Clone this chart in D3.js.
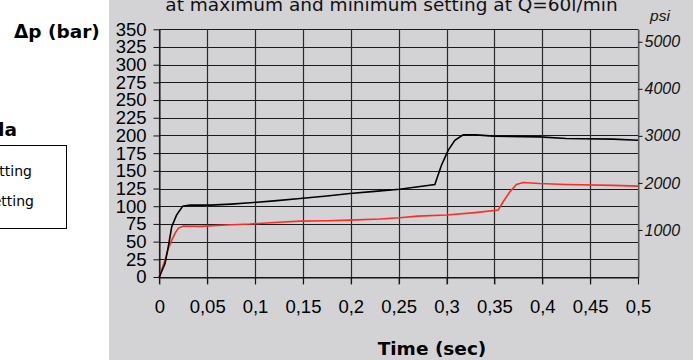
<!DOCTYPE html>
<html><head><meta charset="utf-8">
<script src="https://cdn.jsdelivr.net/npm/d3@7"></script>
<style>body{margin:0;background:#fff}svg{display:block}</style>
</head><body>
<svg id="c" width="693" height="360"></svg>
<script>
const maxSetting = [[0,0],[0.006,19],[0.0094,43],[0.013,71],[0.018,87.5],[0.0244,100],[0.032,101.6],[0.053,101.5],[0.075,103],[0.0947,104.9],[0.12,107.5],[0.147,111],[0.175,114.5],[0.199,118],[0.225,121],[0.251,124],[0.2878,130.8],[0.2947,158],[0.3017,179],[0.3087,193],[0.3174,201],[0.331,200.8],[0.3487,199],[0.397,198],[0.425,195.7],[0.474,194.8],[0.5,193.3]];
const minSetting = [[0,0],[0.006,24],[0.0094,40.5],[0.013,52],[0.0164,61.7],[0.0198,68.7],[0.025,72],[0.0425,71.5],[0.07,73.5],[0.0947,74.8],[0.12,77],[0.147,79],[0.175,79.5],[0.199,80.4],[0.2304,81.9],[0.251,83.7],[0.27,86],[0.30,87.5],[0.33,91],[0.354,94.5],[0.359,106],[0.366,120],[0.373,130.8],[0.380,133.6],[0.397,132.2],[0.425,130.8],[0.474,129.4],[0.5,128.4]];
const xTicks = [0,0.05,0.1,0.15,0.2,0.25,0.3,0.35,0.4,0.45,0.5];
const yTicks = [0,25,50,75,100,125,150,175,200,225,250,275,300,325,350];
const psiTicks = [1000,2000,3000,4000,5000];
const legendLabels = ["Maximum setting","Minimum setting"];

const svg = d3.select("#c");
const L=159.3, R=638, T=29.3, B=277;
const x = d3.scaleLinear().domain([0,0.5]).range([L,R]);
const y = d3.scaleLinear().domain([0,350]).range([B,T]);
const yp = d3.scaleLinear().domain([0,5265]).range([B,T]);

svg.append("rect").attr("x",109).attr("y",0).attr("width",584).attr("height",360).attr("fill","#d3d3d5");

// title (second line visible)
svg.append("text").attr("x",391.5).attr("y",10.5).attr("text-anchor","middle")
  .attr("font-family","DejaVu Sans").attr("font-size",18.5).attr("fill","#111")
  .text("at maximum and minimum setting at Q=60l/min");

// grid
const g = svg.append("g");
g.selectAll(".hg").data(yTicks).enter().append("line")
  .attr("x1",L).attr("x2",R).attr("y1",d=>Math.round(y(d))+0.5).attr("y2",d=>Math.round(y(d))+0.5)
  .attr("stroke","#1a1a1a").attr("stroke-width",1);
g.selectAll(".vg").data(xTicks).enter().append("line")
  .attr("x1",d=>Math.round(x(d))+0.5).attr("x2",d=>Math.round(x(d))+0.5).attr("y1",T).attr("y2",B+7)
  .attr("stroke",(d,i)=> i===xTicks.length-1 ? "#555" : "#2a2a2a").attr("stroke-width",1.2);

// left axis
const ya = svg.append("g").attr("transform",`translate(${Math.round(L)+0.5},0)`)
  .call(d3.axisLeft(y).tickValues(yTicks).tickSize(6).tickSizeOuter(0).tickPadding(7));
ya.select(".domain").attr("stroke","#111");
ya.selectAll(".tick line").attr("stroke","#111");
ya.selectAll("text").attr("font-family","Liberation Sans").attr("font-size",18.5).attr("fill","#000");

// right axis psi
const pa = svg.append("g").attr("transform",`translate(${Math.round(R)+0.5},0)`)
  .call(d3.axisRight(yp).tickValues(psiTicks).tickSize(4).tickSizeOuter(0).tickPadding(2).tickFormat(d3.format("d")));
pa.select(".domain").attr("stroke","#666");
pa.selectAll(".tick line").attr("stroke","#111");
pa.selectAll("text").attr("font-family","Liberation Sans").attr("font-style","italic").attr("font-size",16).attr("fill","#111");

// bottom axis
const xa = svg.append("g").attr("transform",`translate(0,${Math.round(B)+0.5})`)
  .call(d3.axisBottom(x).tickValues(xTicks).tickSize(7).tickSizeOuter(0).tickPadding(15)
    .tickFormat(d=>String(d).replace(".",",")));
xa.select(".domain").attr("stroke","#111");
xa.selectAll(".tick line").attr("stroke","#111");
xa.selectAll("text").attr("font-family","Liberation Sans").attr("font-size",18.5).attr("fill","#000");

// lines
const line = d3.line().x(d=>x(d[0])).y(d=>y(d[1]));
svg.append("path").datum(minSetting).attr("d",line).attr("fill","none").attr("stroke","#ff2b2b").attr("stroke-width",1.6);
svg.append("path").datum(maxSetting).attr("d",line).attr("fill","none").attr("stroke","#000").attr("stroke-width",1.6);

// axis titles
svg.append("text").attr("x",14).attr("y",38).attr("font-family","DejaVu Sans").attr("font-weight","bold")
  .attr("font-size",18.5).attr("fill","#000").text("Δp (bar)");
svg.append("text").attr("x",432).attr("y",355).attr("text-anchor","middle").attr("font-family","DejaVu Sans")
  .attr("font-weight","bold").attr("font-size",18.5).attr("fill","#000").text("Time (sec)");
svg.append("text").attr("x",660).attr("y",20.5).attr("text-anchor","middle").attr("font-family","Liberation Sans")
  .attr("font-style","italic").attr("font-size",15.5).attr("fill","#111").text("psi");

// legend (cut off on the left)
svg.append("text").attr("x",17).attr("y",136).attr("text-anchor","end").attr("font-family","DejaVu Sans")
  .attr("font-weight","bold").attr("font-size",18.5).attr("fill","#000").text("Legenda");
svg.append("rect").attr("x",-2).attr("y",145.5).attr("width",68.5).attr("height",83).attr("fill","#fff").attr("stroke","#000");
svg.selectAll(".lg").data(legendLabels).enter().append("text")
  .attr("x",(d,i)=>[32,34][i]).attr("y",(d,i)=>176+i*30).attr("text-anchor","end")
  .attr("font-family","DejaVu Sans").attr("font-size",14).attr("fill","#000").text(d=>d);
</script>
</body></html>
